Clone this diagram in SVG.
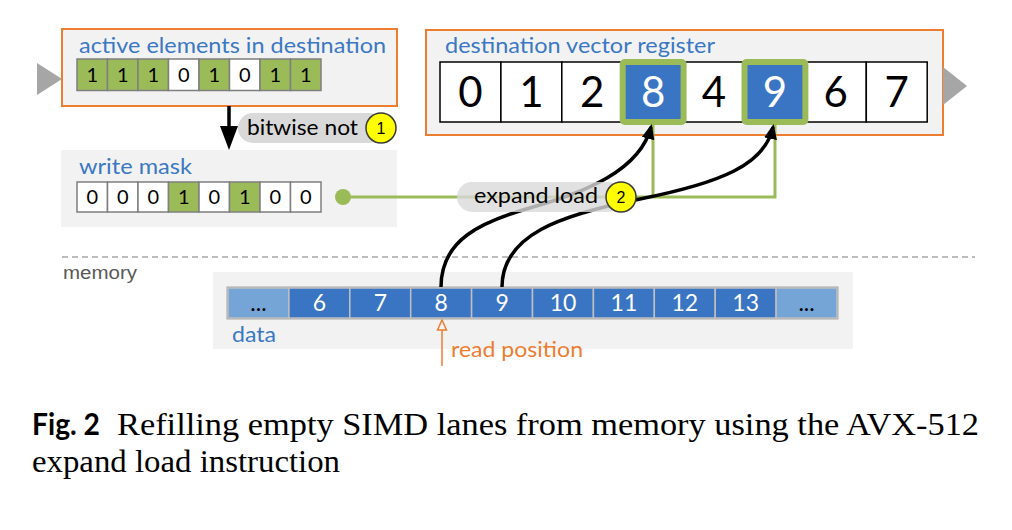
<svg xmlns="http://www.w3.org/2000/svg" width="1012" height="530" viewBox="0 0 1012 530">
<defs>
<style>
.lbl{font-family:Lato,"Open Sans","Liberation Sans",sans-serif;font-size:21px;fill:#3b78c4}
.pill{font-family:Lato,"Open Sans","Liberation Sans",sans-serif;font-size:21px;fill:#000}
.mbit{font-family:Lato,"Open Sans","Liberation Sans",sans-serif;font-size:20px;fill:#000;text-anchor:middle}
.reg{font-family:Lato,"Open Sans","Liberation Sans",sans-serif;font-size:42px;fill:#000;text-anchor:middle}
.mem{font-family:Lato,"Open Sans","Liberation Sans",sans-serif;font-size:23px;fill:#fff;text-anchor:middle}
.num{font-family:"Liberation Sans",Arial,sans-serif;font-size:16px;fill:#000;text-anchor:middle}
.box{fill:#f2f2f2;stroke:#ed7d31;stroke-width:2}
.g{fill:#9bbb59}
.w{fill:#fff}
.cell{stroke:#7f7f7f;stroke-width:1.5}
.rc{fill:#fff;stroke:#000;stroke-width:1.5}
.mc{fill:#3a75c4;stroke:#bfbfbf;stroke-width:1.5}
.ml{fill:#75a5d6;stroke:#bfbfbf;stroke-width:1.5}
.gl{fill:none;stroke:#9bbb59;stroke-width:3}
.cv{fill:none;stroke:#000;stroke-width:3.5;marker-end:url(#ah)}
.tri{fill:#a6a6a6}
.yc{fill:#ffff00;stroke:#3a3a3a;stroke-width:1.5}
</style>
<marker id="ah" markerUnits="userSpaceOnUse" markerWidth="16" markerHeight="14" refX="12" refY="6.5" orient="auto">
<path d="M0,0 L15,6.5 L0,13 z" fill="#000"/>
</marker>
</defs>
<rect width="1012" height="530" fill="#fff"/>

<g id="active-elements">
<polygon class="tri" points="37,63 62,79 37,95"/>
<rect class="box" x="62" y="29" width="335" height="77"/>
<text class="lbl" x="79" y="53" textLength="307" lengthAdjust="spacingAndGlyphs">active elements in destination</text>
<g class="cell">
<rect class="g" x="77" y="59" width="30.5" height="31.5"/>
<rect class="g" x="107.5" y="59" width="30.5" height="31.5"/>
<rect class="g" x="138" y="59" width="30.5" height="31.5"/>
<rect class="w" x="168.5" y="59" width="30.5" height="31.5"/>
<rect class="g" x="199" y="59" width="30.5" height="31.5"/>
<rect class="w" x="229.5" y="59" width="30.5" height="31.5"/>
<rect class="g" x="260" y="59" width="30.5" height="31.5"/>
<rect class="g" x="290.5" y="59" width="30.5" height="31.5"/>
</g>
<text class="mbit" y="82"><tspan x="92.3">1</tspan><tspan x="122.8">1</tspan><tspan x="153.3">1</tspan><tspan x="183.8">0</tspan><tspan x="214.3">1</tspan><tspan x="244.8">0</tspan><tspan x="275.3">1</tspan><tspan x="305.8">1</tspan></text>
</g>

<g id="write-mask">
<rect x="61" y="150" width="336" height="77" fill="#f2f2f2"/>
<text class="lbl" x="79" y="174" textLength="113" lengthAdjust="spacingAndGlyphs">write mask</text>
<g class="cell">
<rect class="w" x="77" y="182" width="30.5" height="30"/>
<rect class="w" x="107.5" y="182" width="30.5" height="30"/>
<rect class="w" x="138" y="182" width="30.5" height="30"/>
<rect class="g" x="168.5" y="182" width="30.5" height="30"/>
<rect class="w" x="199" y="182" width="30.5" height="30"/>
<rect class="g" x="229.5" y="182" width="30.5" height="30"/>
<rect class="w" x="260" y="182" width="30.5" height="30"/>
<rect class="w" x="290.5" y="182" width="30.5" height="30"/>
</g>
<text class="mbit" y="204"><tspan x="92.3">0</tspan><tspan x="122.8">0</tspan><tspan x="153.3">0</tspan><tspan x="183.8">1</tspan><tspan x="214.3">0</tspan><tspan x="244.8">1</tspan><tspan x="275.3">0</tspan><tspan x="305.8">0</tspan></text>
</g>

<g id="destination-register">
<rect class="box" x="426" y="30" width="517" height="105"/>
<polygon class="tri" points="943,67 967,86 943,105"/>
<text class="lbl" x="445" y="53" textLength="270" lengthAdjust="spacingAndGlyphs">destination vector register</text>
<rect class="rc" x="440" y="62" width="60.9" height="60"/>
<rect class="rc" x="500.9" y="62" width="60.9" height="60"/>
<rect class="rc" x="561.8" y="62" width="60.9" height="60"/>
<rect class="rc" x="683.6" y="62" width="60.9" height="60"/>
<rect class="rc" x="805.4" y="62" width="60.9" height="60"/>
<rect class="rc" x="866.3" y="62" width="60.9" height="60"/>
<rect x="622.7" y="62" width="60.9" height="60" fill="#3a75c4" stroke="#9bbb59" stroke-width="6" rx="2"/>
<rect x="744.5" y="62" width="60.9" height="60" fill="#3a75c4" stroke="#9bbb59" stroke-width="6" rx="2"/>
<text class="reg" y="107"><tspan x="470.5">0</tspan><tspan x="531.4">1</tspan><tspan x="592.3">2</tspan><tspan x="714">4</tspan><tspan x="835.8">6</tspan><tspan x="896.7">7</tspan></text>
<text class="reg" y="107" style="fill:#fff"><tspan x="653.2">8</tspan><tspan x="775">9</tspan></text>
</g>

<g id="memory">
<line x1="62" y1="257" x2="975" y2="257" stroke="#a6a6a6" stroke-width="1.5" stroke-dasharray="6,4"/>
<text x="63" y="279" font-family="Liberation Sans,Arial,sans-serif" font-size="18" fill="#595959" textLength="74" lengthAdjust="spacingAndGlyphs">memory</text>
<rect x="213" y="272" width="640" height="77" fill="#f2f2f2"/>
<rect x="228" y="288" width="609" height="30" fill="none" stroke="#a6a6a6" stroke-width="3"/>
<rect class="ml" x="228" y="288" width="60.9" height="30"/>
<rect class="mc" x="288.9" y="288" width="60.9" height="30"/>
<rect class="mc" x="349.8" y="288" width="60.9" height="30"/>
<rect class="mc" x="410.7" y="288" width="60.9" height="30"/>
<rect class="mc" x="471.6" y="288" width="60.9" height="30"/>
<rect class="mc" x="532.5" y="288" width="60.9" height="30"/>
<rect class="mc" x="593.4" y="288" width="60.9" height="30"/>
<rect class="mc" x="654.3" y="288" width="60.9" height="30"/>
<rect class="mc" x="715.2" y="288" width="60.9" height="30"/>
<rect class="ml" x="776.1" y="288" width="60.9" height="30"/>
<text class="mem" y="311"><tspan x="319.4">6</tspan><tspan x="380.3">7</tspan><tspan x="441.2">8</tspan><tspan x="502.1">9</tspan><tspan x="563">10</tspan><tspan x="623.9">11</tspan><tspan x="684.8">12</tspan><tspan x="745.7">13</tspan></text>
<text class="mem" y="311" style="fill:#000"><tspan x="258.5">...</tspan><tspan x="806.6">...</tspan></text>
<text class="lbl" x="232" y="342" textLength="44" lengthAdjust="spacingAndGlyphs">data</text>
</g>

<g id="read-position">
<line x1="442" y1="366" x2="442" y2="330" stroke="#ed7d31" stroke-width="1.5"/>
<polygon points="437.5,330 442,320 446.5,330" fill="#f2f2f2" stroke="#ed7d31" stroke-width="1.5"/>
<text x="451" y="357" font-family="Lato,'Open Sans',sans-serif" font-size="21" fill="#ed7d31" textLength="132" lengthAdjust="spacingAndGlyphs">read position</text>
</g>

<g id="connectors">
<line x1="229" y1="106" x2="229" y2="128" stroke="#000" stroke-width="3.5"/>
<polygon points="220,126 238,126 229,150" fill="#000"/>
<circle cx="343" cy="197" r="8" fill="#9bbb59"/>
<path class="gl" d="M343,197 H775 V125 M653,197 V125"/>
<path class="cv" d="M441,287 C441,240 480,222 533,207 S640,170 651,127"/>
</g>

<g id="label-bitwise-not">
<rect x="238" y="113" width="146" height="30" rx="15" fill="#d9d9d9"/>
<text class="pill" x="247" y="135" textLength="111" lengthAdjust="spacingAndGlyphs">bitwise not</text>
<circle class="yc" cx="381" cy="128" r="15"/>
<text class="num" x="381" y="134">1</text>
</g>

<g id="connector-9">
<path class="cv" d="M502,287 C502,235 560,215 640,199 S765,165 773,127"/>
</g>

<g id="label-expand-load">
<rect x="457" y="182" width="166" height="30" rx="15" fill="#d9d9d9" opacity="0.8"/>
<text class="pill" x="474" y="203" textLength="124" lengthAdjust="spacingAndGlyphs">expand load</text>
<circle class="yc" cx="621" cy="197" r="15"/>
<text class="num" x="621" y="203">2</text>
</g>

<g id="caption">
<text x="32" y="435" font-family="Lato,'Open Sans',sans-serif" font-weight="bold" font-size="30" fill="#000" textLength="68" lengthAdjust="spacingAndGlyphs">Fig. 2</text>
<text x="117" y="435" font-family="'Liberation Serif','Times New Roman',serif" font-size="31" fill="#000" textLength="862" lengthAdjust="spacingAndGlyphs">Refilling empty SIMD lanes from memory using the AVX-512</text>
<text x="32" y="472" font-family="'Liberation Serif','Times New Roman',serif" font-size="31" fill="#000" textLength="308" lengthAdjust="spacingAndGlyphs">expand load instruction</text>
</g>
</svg>
